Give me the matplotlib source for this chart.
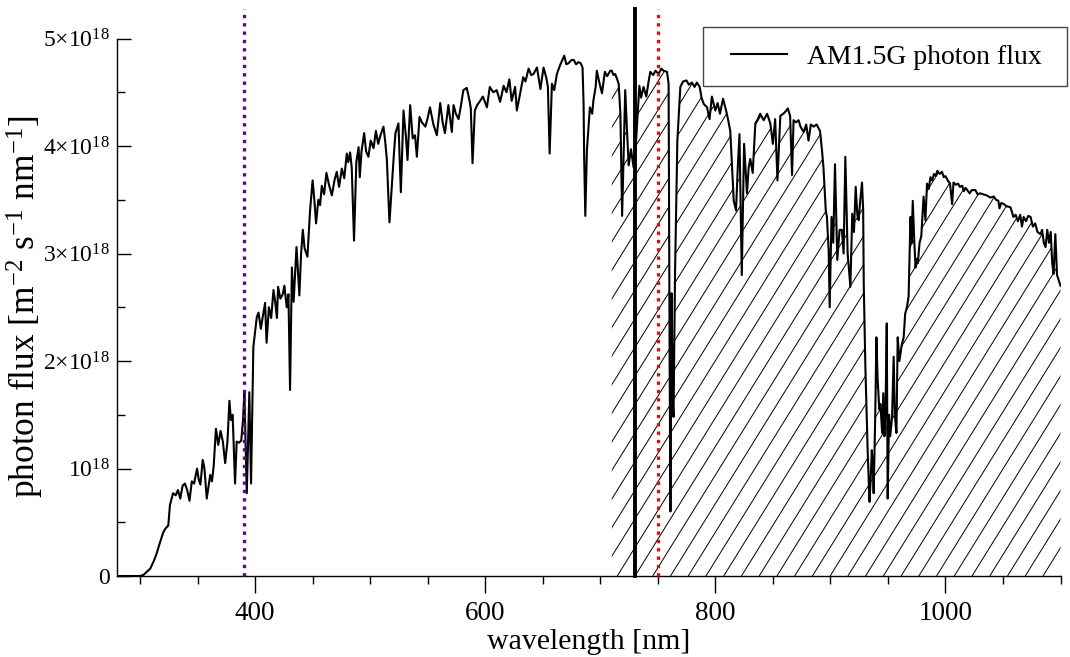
import numpy as np
import matplotlib
matplotlib.use("Agg")
import matplotlib.pyplot as plt
from matplotlib.collections import LineCollection
from matplotlib.patches import Rectangle
from matplotlib.ticker import MultipleLocator, FixedLocator

# ---------------- data ----------------
wavelength_nm = [
    280, 290, 300, 303, 306, 309, 312, 314.5, 317, 320, 322, 324.6, 326, 328.7, 331, 333, 335, 337, 339, 341,
    343, 345, 347, 349.6, 351, 352.5, 354.5, 356, 358, 361, 362.5, 364, 366, 368, 370, 372, 374, 376, 377.7, 379,
    380.5, 382.6, 384, 386, 388, 389.5, 390.7, 392.8, 395, 396.5, 398.5, 401.5, 403, 405, 406.5, 408.7, 410, 412, 414, 416,
    417.5, 419, 420, 422, 424, 425.5, 427.5, 429, 430.4, 432, 433.5, 436, 438.5, 440, 441.5, 443, 445.5, 447.8, 450, 451.5,
    453, 455, 456.5, 458, 460, 462, 464, 466.7, 469, 471, 473, 475.4, 477.5, 479.7, 481, 482.6, 484, 486, 488, 490,
    491, 492.5, 494.8, 496.5, 498.5, 500.5, 503, 505, 507, 509, 511.6, 513, 514.5, 516.8, 519, 520.5, 522, 524.6, 526.7, 529,
    531, 532.5, 534.8, 537, 539, 540.6, 542.9, 545, 548, 550, 552, 555, 558, 560.9, 563, 565, 568, 571, 572.5, 574.5,
    576.8, 579, 581, 584, 586.4, 587.5, 589, 591, 593, 595.6, 598, 601.5, 604, 607, 610, 613, 616, 618.5, 621, 623,
    626, 627.5, 630.4, 633, 635, 637.7, 640, 642, 645, 648, 650.7, 653, 654.5, 656, 658, 660, 662.3, 665, 668.7, 670.5,
    672.4, 675, 677, 679, 681, 683, 684.6, 685.5, 686, 687, 688.4, 690, 691, 693, 694, 696, 697, 699, 701.5, 704,
    706, 708.7, 710, 711.5, 713, 716, 717.5, 719, 720.5, 721.7, 723, 724.7, 726.7, 729, 731, 732.5, 734, 735.5, 737.6, 740,
    742, 743.5, 746, 748, 750.7, 753, 755, 758, 759.4, 760.3, 761, 762, 763, 763.7, 764.3, 765, 767, 769.6, 772, 775,
    777, 779.7, 782, 784, 786.4, 788, 790, 792.8, 795, 797, 800, 802, 804, 806.7, 809.6, 811, 813, 815, 816, 818,
    819.5, 821, 823, 825, 827.5, 829, 830.4, 832.5, 834.8, 837, 839, 842, 845, 847.8, 850, 852, 854, 856.5, 859, 861,
    863, 865, 866.7, 868, 870, 872.4, 874, 876.8, 879, 881, 883, 885.5, 888, 891, 892.7, 894, 896, 897, 898.5, 899.4,
    901, 902.5, 904, 906, 908, 910, 911.5, 913, 915, 917.4, 919, 920.5, 922, 923.5, 924.6, 926, 927.5, 928.5, 929, 930.4,
    932.4, 934, 935, 936, 937, 937.6, 939, 940, 941, 942.5, 943.5, 945, 946, 947, 948, 949, 949.8, 951, 952, 953.6,
    955, 956, 957.4, 958.5, 960, 962, 963.7, 965, 966.5, 968, 969.6, 970.5, 971.6, 973, 974, 975, 976, 977.5, 979, 980,
    981, 982.6, 984, 985.5, 987, 988.5, 990, 991.5, 993, 995, 997, 998.5, 1000, 1002, 1004, 1005.8, 1007, 1009, 1011, 1012.5,
    1014.5, 1016, 1017.5, 1019, 1021, 1023, 1026, 1028, 1030, 1033, 1036, 1039, 1042, 1044, 1046, 1047, 1048.5, 1050.7, 1053, 1056.5,
    1058, 1059, 1061, 1063, 1065, 1066.5, 1068, 1070, 1072, 1074, 1076, 1078, 1080, 1082.6, 1084, 1085.5, 1087, 1088.5, 1090, 1091.5,
    1092.8, 1094, 1095.5, 1097, 1098.5, 1100,
]

# photon flux in units of 1e18 m^-2 s^-1 nm^-1
photon_flux_e18 = [
    0.00, 0.00, 0.00, 0.01, 0.04, 0.07, 0.14, 0.21, 0.30, 0.40, 0.44, 0.47, 0.66, 0.77, 0.75, 0.80, 0.72, 0.84, 0.86, 0.80,
    0.70, 0.88, 0.86, 1.00, 0.90, 0.85, 1.08, 1.00, 0.72, 0.94, 0.88, 1.02, 1.37, 1.22, 1.35, 1.25, 1.05, 1.25, 1.63, 1.45,
    1.50, 0.86, 1.25, 1.24, 1.26, 1.45, 1.70, 0.77, 1.71, 0.86, 2.13, 2.41, 2.45, 2.30, 2.40, 2.54, 2.17, 2.50, 2.40, 2.66,
    2.55, 2.40, 2.69, 2.58, 2.62, 2.70, 2.50, 2.62, 1.73, 2.87, 2.55, 3.06, 2.61, 3.00, 3.22, 3.05, 2.97, 3.40, 3.68, 3.50,
    3.28, 3.50, 3.45, 3.63, 3.55, 3.75, 3.65, 3.54, 3.68, 3.76, 3.62, 3.79, 3.70, 3.93, 3.85, 3.94, 3.80, 3.12, 3.85, 3.99,
    3.71, 3.95, 4.12, 3.95, 3.90, 4.05, 3.98, 4.14, 4.02, 4.10, 4.18, 4.05, 3.88, 3.29, 3.65, 3.90, 4.12, 4.21, 3.57, 4.33,
    4.10, 3.87, 4.38, 4.07, 4.10, 3.90, 4.27, 4.22, 4.18, 4.26, 4.36, 4.20, 4.10, 4.40, 4.22, 4.12, 4.38, 4.13, 4.38, 4.30,
    4.25, 4.38, 4.52, 4.54, 4.42, 4.35, 3.84, 4.33, 4.38, 4.42, 4.46, 4.36, 4.55, 4.50, 4.52, 4.41, 4.56, 4.50, 4.62, 4.42,
    4.55, 4.33, 4.49, 4.64, 4.60, 4.72, 4.66, 4.67, 4.73, 4.53, 4.73, 4.64, 4.55, 3.93, 4.58, 4.52, 4.67, 4.75, 4.84, 4.76,
    4.77, 4.80, 4.80, 4.76, 4.78, 4.77, 4.73, 4.40, 3.90, 3.35, 3.96, 4.20, 4.36, 4.30, 4.42, 4.55, 4.70, 4.60, 4.49, 4.69,
    4.65, 4.70, 4.70, 4.66, 4.67, 4.58, 4.30, 3.35, 4.00, 4.52, 4.20, 3.82, 3.97, 3.80, 4.02, 4.30, 4.56, 4.45, 4.55, 4.46,
    4.60, 4.69, 4.66, 4.70, 4.67, 4.72, 4.70, 4.69, 4.58, 2.00, 0.60, 2.63, 1.60, 1.48, 2.10, 2.82, 4.05, 4.55, 4.60, 4.61,
    4.57, 4.59, 4.55, 4.59, 4.55, 4.45, 4.39, 4.36, 4.25, 4.46, 4.33, 4.40, 4.30, 4.44, 4.32, 4.25, 4.14, 3.70, 3.49, 3.40,
    3.80, 4.11, 2.80, 4.02, 3.56, 3.80, 3.88, 3.75, 4.21, 4.25, 4.30, 4.24, 4.30, 4.21, 4.02, 4.25, 3.68, 4.28, 4.30, 4.32,
    4.35, 4.28, 3.73, 4.24, 4.22, 4.24, 4.18, 4.13, 4.20, 4.05, 4.20, 4.18, 4.20, 4.14, 3.96, 3.80, 3.40, 3.34, 3.03, 2.50,
    3.34, 3.10, 3.83, 2.94, 3.22, 3.22, 3.00, 3.90, 3.00, 2.69, 3.37, 3.20, 3.62, 3.35, 3.31, 3.50, 3.66, 3.40, 2.72, 1.95,
    1.17, 0.69, 0.90, 1.17, 1.00, 0.77, 1.50, 2.22, 1.85, 1.55, 1.60, 1.33, 1.70, 1.30, 1.60, 2.35, 0.72, 1.50, 1.30, 1.48,
    2.04, 1.50, 1.33, 2.22, 2.00, 2.15, 2.22, 2.44, 2.50, 2.60, 3.34, 3.10, 3.49, 3.10, 2.87, 2.95, 2.91, 3.10, 3.16, 3.35,
    3.53, 3.31, 3.65, 3.60, 3.71, 3.68, 3.74, 3.72, 3.77, 3.74, 3.76, 3.71, 3.72, 3.68, 3.65, 3.46, 3.66, 3.64, 3.65, 3.62,
    3.63, 3.58, 3.61, 3.59, 3.56, 3.59, 3.59, 3.55, 3.56, 3.55, 3.54, 3.52, 3.53, 3.50, 3.49, 3.42, 3.47, 3.46, 3.44, 3.43,
    3.38, 3.34, 3.36, 3.30, 3.36, 3.25, 3.34, 3.30, 3.35, 3.34, 3.25, 3.28, 3.20, 3.18, 3.22, 3.10, 3.06, 3.22, 3.10, 3.20,
    2.91, 2.81, 3.18, 2.80, 2.75, 2.70,
]

ytick_values_e18 = [0, 1, 2, 3, 4, 5]
ytick_labels = ["0", r"$10^{18}$", r"$2{\times}10^{18}$", r"$3{\times}10^{18}$",
                r"$4{\times}10^{18}$", r"$5{\times}10^{18}$"]
xtick_major = [400, 600, 800, 1000]
hatch_start_nm = 710
purple_edge_nm = 390
black_edge_nm = 730
red_edge_nm = 750
legend_label = "AM1.5G photon flux"

# ---------------- style ----------------
plt.rcParams.update({
    "font.family": ["Liberation Serif", "DejaVu Serif"],
    "mathtext.fontset": "custom",
    "mathtext.rm": "Liberation Serif",
    "mathtext.it": "Liberation Serif:italic",
    "mathtext.bf": "Liberation Serif:bold",
    "axes.linewidth": 1.0,
})

W, H = 1070, 657
fig = plt.figure(figsize=(W / 100, H / 100), dpi=100)
left, right, bottom, top = 117 / W, 1060.5 / W, 1 - 576 / H, 1 - 38.5 / H
ax = fig.add_axes([left, bottom, right - left, top - bottom])

wl = np.array(wavelength_nm, dtype=float)
fl = np.array(photon_flux_e18, dtype=float) * 1e18

ax.plot(wl, fl, color="black", lw=1.5, label=legend_label, zorder=3)

# hatched region under the curve beyond hatch_start_nm (steep diagonal hatching)
mask = wl >= hatch_start_nm
poly = ax.fill_between(wl[mask], 0, fl[mask], facecolor="none", edgecolor="none", lw=0)
spacing = 0.0188      # axes-fraction spacing along x
slope = 2.83          # axes-fraction slope
starts = np.arange(-1.0 / slope - spacing, 1.0 + spacing, spacing)
segs = [[(s, 0.0), (s + 1.0 / slope, 1.0)] for s in starts]
lc = LineCollection(segs, colors="black", linewidths=0.7, transform=ax.transAxes, zorder=2)
ax.add_collection(lc, autolim=False)
lc.set_clip_path(poly.get_paths()[0], ax.transData)

ext = (576 - 9) / 537.5
ax.axvline(purple_edge_nm, ymin=0, ymax=ext, color="#660099", lw=2.4,
           ls=(0, (1, 1.5)), clip_on=False, zorder=4)
ax.axvline(black_edge_nm, ymin=0, ymax=ext, color="black", lw=2.8, clip_on=False, zorder=4)
ax.axvline(red_edge_nm, ymin=0, ymax=ext, color="#ff0000", lw=2.4,
           ls=(0, (1, 1.5)), clip_on=False, zorder=4)

ax.set_xlim(280, 1100)
ax.set_ylim(0, 5e18)
for s in ("top", "right"):
    ax.spines[s].set_visible(False)

ax.xaxis.set_major_locator(FixedLocator(xtick_major))
ax.xaxis.set_minor_locator(MultipleLocator(50))
ax.yaxis.set_major_locator(FixedLocator([v * 1e18 for v in ytick_values_e18]))
ax.set_yticklabels(ytick_labels)
ax.yaxis.set_minor_locator(MultipleLocator(0.5e18))

ax.tick_params(axis="x", which="major", direction="out", length=12, width=1, labelsize=19.5, pad=6)
ax.tick_params(axis="x", which="minor", direction="out", length=6, width=1)
ax.tick_params(axis="y", which="major", direction="in", length=10, width=1, labelsize=17, pad=5)
ax.tick_params(axis="y", which="minor", direction="in", length=6, width=1)

ax.set_xlabel("wavelength [nm]", fontsize=21.5, labelpad=2)
ax.set_ylabel(r"photon flux [m$^{-2}$ s$^{-1}$ nm$^{-1}$]", fontsize=25.5)
ax.yaxis.set_label_coords(-0.075, 0.5)

# legend with a plain rectangular frame
leg = ax.legend(loc="center left", bbox_to_anchor=(731 / W, 1 - 57 / H),
                bbox_transform=fig.transFigure, frameon=False, fontsize=20,
                handlelength=2.0, borderaxespad=0, borderpad=0, handletextpad=0.75)
frame = Rectangle((703 / W, 1 - 86 / H), (1067 - 703) / W, (86 - 27) / H,
                  transform=fig.transFigure, facecolor="white", edgecolor="#444444",
                  lw=1.0, zorder=5)
fig.add_artist(frame)
leg.set_zorder(6)
fig.add_artist(leg)

fig.savefig("out.png", dpi=100)
